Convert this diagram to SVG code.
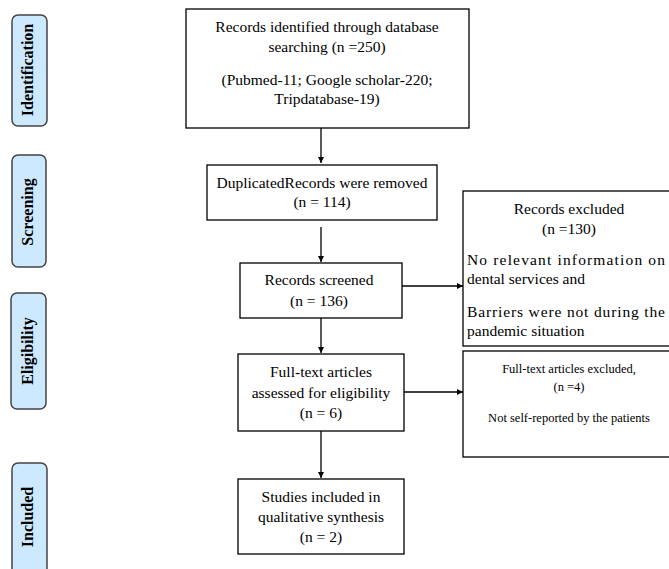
<svg xmlns="http://www.w3.org/2000/svg" width="669" height="569" viewBox="0 0 669 569">
<defs>
<style>
.box{fill:#fff;stroke:#000;stroke-width:1.3}
.side{fill:#cce9ff;stroke:#444;stroke-width:1.5}
.t{font-family:"Liberation Serif","Times New Roman",serif;font-size:15.5px;fill:#000;text-anchor:middle}
.l{font-family:"Liberation Serif","Times New Roman",serif;font-size:15.5px;fill:#000;text-anchor:start}
.s{font-family:"Liberation Serif","Times New Roman",serif;font-size:12.5px;fill:#000;text-anchor:middle}
.lab{font-family:"Liberation Serif","Times New Roman",serif;font-size:16px;font-weight:bold;fill:#000;text-anchor:middle}
.c{stroke:#000;stroke-width:1.3;fill:none}
</style>
<marker id="ah" viewBox="0 0 10 10" refX="10" refY="5" markerWidth="6" markerHeight="6" markerUnits="userSpaceOnUse" orient="auto">
<path d="M0,0 L10,5 L0,10 z" fill="#000"/>
</marker>
</defs>
<rect width="669" height="569" fill="#fff"/>

<g id="side-identification">
<rect class="side" x="12" y="15" width="35" height="111" rx="6"/>
<text class="lab" transform="translate(33,70) rotate(-90)">Identification</text>
</g>
<g id="side-screening">
<rect class="side" x="12" y="155" width="34" height="112" rx="6"/>
<text class="lab" transform="translate(33,212) rotate(-90)">Screening</text>
</g>
<g id="side-eligibility">
<rect class="side" x="11" y="293" width="35" height="116" rx="6"/>
<text class="lab" transform="translate(33,351) rotate(-90)">Eligibility</text>
</g>
<g id="side-included">
<rect class="side" x="12" y="463" width="35" height="120" rx="6"/>
<text class="lab" transform="translate(33,517) rotate(-90)">Included</text>
</g>

<g id="connectors">
<line class="c" x1="321" y1="128" x2="321" y2="163" marker-end="url(#ah)"/>
<line class="c" x1="321" y1="227" x2="321" y2="262" marker-end="url(#ah)"/>
<line class="c" x1="321" y1="318" x2="321" y2="353" marker-end="url(#ah)"/>
<line class="c" x1="321" y1="431" x2="321" y2="478" marker-end="url(#ah)"/>
<line class="c" x1="402" y1="286" x2="463" y2="286" marker-end="url(#ah)"/>
<line class="c" x1="404" y1="392" x2="463" y2="392" marker-end="url(#ah)"/>
</g>

<g id="records-identified">
<rect class="box" x="186" y="9" width="283" height="119"/>
<text class="t" x="327" y="32">Records identified through database</text>
<text class="t" x="327" y="52">searching (n =250)</text>
<text class="t" x="327" y="85">(Pubmed-11; Google scholar-220;</text>
<text class="t" x="327" y="104">Tripdatabase-19)</text>
</g>

<g id="duplicates-removed">
<rect class="box" x="207" y="165" width="230" height="55"/>
<text class="t" x="322" y="188">DuplicatedRecords were removed</text>
<text class="t" x="322" y="207">(n = 114)</text>
</g>

<g id="records-screened">
<rect class="box" x="240" y="263" width="162" height="55"/>
<text class="t" x="319" y="285">Records screened</text>
<text class="t" x="319" y="306">(n = 136)</text>
</g>

<g id="full-text-assessed">
<rect class="box" x="238" y="354" width="166" height="77"/>
<text class="t" x="321" y="377">Full-text articles</text>
<text class="t" x="321" y="398">assessed for eligibility</text>
<text class="t" x="321" y="418">(n = 6)</text>
</g>

<g id="studies-included">
<rect class="box" x="238" y="479" width="166" height="75"/>
<text class="t" x="321" y="502">Studies included in</text>
<text class="t" x="321" y="522">qualitative synthesis</text>
<text class="t" x="321" y="542">(n = 2)</text>
</g>

<g id="records-excluded">
<rect class="box" x="463" y="191" width="212" height="155"/>
<text class="t" x="569" y="214">Records excluded</text>
<text class="t" x="569" y="234">(n =130)</text>
<text class="l" x="467" y="265" textLength="198" lengthAdjust="spacing">No relevant information on</text>
<text class="l" x="467" y="284">dental services and</text>
<text class="l" x="467" y="317" textLength="198" lengthAdjust="spacing">Barriers were not during the</text>
<text class="l" x="467" y="336">pandemic situation</text>
</g>

<g id="full-text-excluded">
<rect class="box" x="463" y="351" width="212" height="106"/>
<text class="s" x="569" y="373">Full-text articles excluded,</text>
<text class="s" x="569" y="391">(n =4)</text>
<text class="s" x="569" y="422">Not self-reported by the patients</text>
</g>
</svg>
